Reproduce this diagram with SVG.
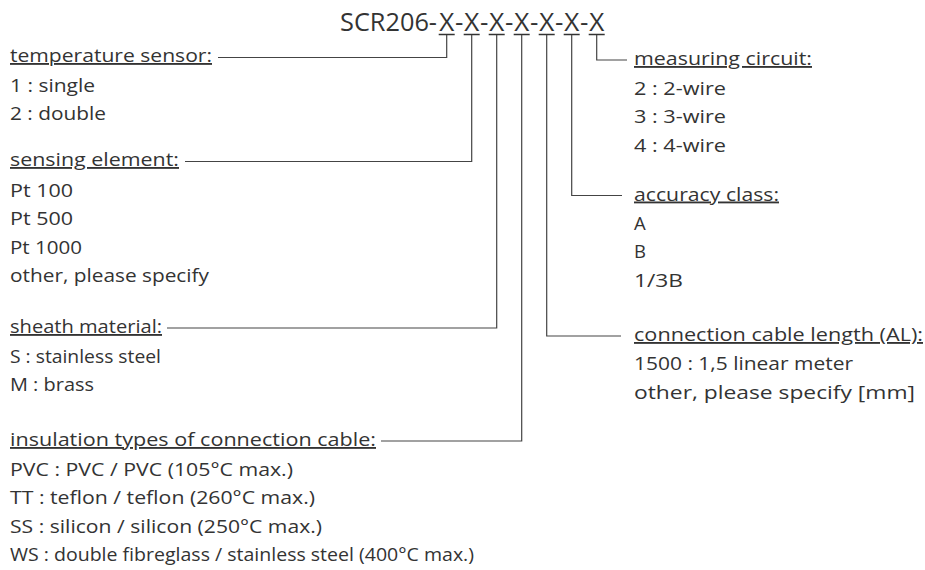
<svg xmlns="http://www.w3.org/2000/svg" width="925" height="570" viewBox="0 0 925 570">
<style>
  text { font-family: "Open Sans", "Liberation Sans", sans-serif; font-size: 18.5px; fill: #333; }
  .t { font-size: 26px; }
  .h { text-decoration: underline; }
  .c { fill: none; stroke: #444; stroke-width: 1.2; }
  .u { stroke: #333; stroke-width: 1.6; }
</style>
<rect width="925" height="570" fill="#fff"/>
<g id="title">
  <text class="t" x="340" y="31" textLength="97" lengthAdjust="spacingAndGlyphs">SCR206-</text>
  <text class="t" text-anchor="middle" y="31"><tspan x="446.7">X</tspan><tspan x="459.2">-</tspan><tspan x="471.7">X</tspan><tspan x="484.2">-</tspan><tspan x="496.7">X</tspan><tspan x="509.2">-</tspan><tspan x="521.7">X</tspan><tspan x="534.2">-</tspan><tspan x="546.7">X</tspan><tspan x="559.2">-</tspan><tspan x="571.7">X</tspan><tspan x="584.2">-</tspan><tspan x="596.7">X</tspan></text>
  <path class="u" d="M438.7 34.5H454.7M463.7 34.5H479.7M488.7 34.5H504.7M513.7 34.5H529.7M538.7 34.5H554.7M563.7 34.5H579.7M588.7 34.5H604.7"/>
</g>
<g id="connectors">
  <path class="c" d="M446.7 35V57.5H218"/>
  <path class="c" d="M471.7 35V161.5H185"/>
  <path class="c" d="M496.7 35V328H167"/>
  <path class="c" d="M521.7 35V441H381"/>
  <path class="c" d="M546.7 35V336H621"/>
  <path class="c" d="M571.7 35V195.5H622"/>
  <path class="c" d="M596.7 35V60H627"/>
</g>
<g id="temperature-sensor">
  <text class="h" x="10" y="62" textLength="202" lengthAdjust="spacingAndGlyphs">temperature sensor:</text>
  <text x="10" y="91.5" textLength="85" lengthAdjust="spacingAndGlyphs">1 : single</text>
  <text x="10" y="120" textLength="96" lengthAdjust="spacingAndGlyphs">2 : double</text>
</g>
<g id="sensing-element">
  <text class="h" x="10" y="166" textLength="169" lengthAdjust="spacingAndGlyphs">sensing element:</text>
  <text x="10" y="196.5" textLength="63" lengthAdjust="spacingAndGlyphs">Pt 100</text>
  <text x="10" y="225" textLength="63" lengthAdjust="spacingAndGlyphs">Pt 500</text>
  <text x="10" y="253.5" textLength="72" lengthAdjust="spacingAndGlyphs">Pt 1000</text>
  <text x="10" y="282" textLength="199" lengthAdjust="spacingAndGlyphs">other, please specify</text>
</g>
<g id="sheath-material">
  <text class="h" x="10" y="333" textLength="152" lengthAdjust="spacingAndGlyphs">sheath material:</text>
  <text x="10" y="362.5" textLength="151" lengthAdjust="spacingAndGlyphs">S : stainless steel</text>
  <text x="10" y="391" textLength="84" lengthAdjust="spacingAndGlyphs">M : brass</text>
</g>
<g id="insulation-types">
  <text class="h" x="10" y="446" textLength="366" lengthAdjust="spacingAndGlyphs">insulation types of connection cable:</text>
  <text x="10" y="475.5" textLength="283" lengthAdjust="spacingAndGlyphs">PVC : PVC / PVC (105°C max.)</text>
  <text x="10" y="504" textLength="305" lengthAdjust="spacingAndGlyphs">TT : teflon / teflon (260°C max.)</text>
  <text x="10" y="532.5" textLength="312" lengthAdjust="spacingAndGlyphs">SS : silicon / silicon (250°C max.)</text>
  <text x="10" y="561" textLength="464" lengthAdjust="spacingAndGlyphs">WS : double fibreglass / stainless steel (400°C max.)</text>
</g>
<g id="measuring-circuit">
  <text class="h" x="634" y="65" textLength="178" lengthAdjust="spacingAndGlyphs">measuring circuit:</text>
  <text x="634" y="94.5" textLength="92" lengthAdjust="spacingAndGlyphs">2 : 2-wire</text>
  <text x="634" y="123" textLength="92" lengthAdjust="spacingAndGlyphs">3 : 3-wire</text>
  <text x="634" y="151.5" textLength="92" lengthAdjust="spacingAndGlyphs">4 : 4-wire</text>
</g>
<g id="accuracy-class">
  <text class="h" x="634" y="200.5" textLength="145" lengthAdjust="spacingAndGlyphs">accuracy class:</text>
  <text x="634" y="229.5">A</text>
  <text x="634" y="258">B</text>
  <text x="634" y="286.5" textLength="49" lengthAdjust="spacingAndGlyphs">1/3B</text>
</g>
<g id="connection-cable-length">
  <text class="h" x="634" y="341" textLength="289" lengthAdjust="spacingAndGlyphs">connection cable length (AL):</text>
  <text x="634" y="370" textLength="219" lengthAdjust="spacingAndGlyphs">1500 : 1,5 linear meter</text>
  <text x="634" y="398.5" textLength="281" lengthAdjust="spacingAndGlyphs">other, please specify [mm]</text>
</g>
</svg>
